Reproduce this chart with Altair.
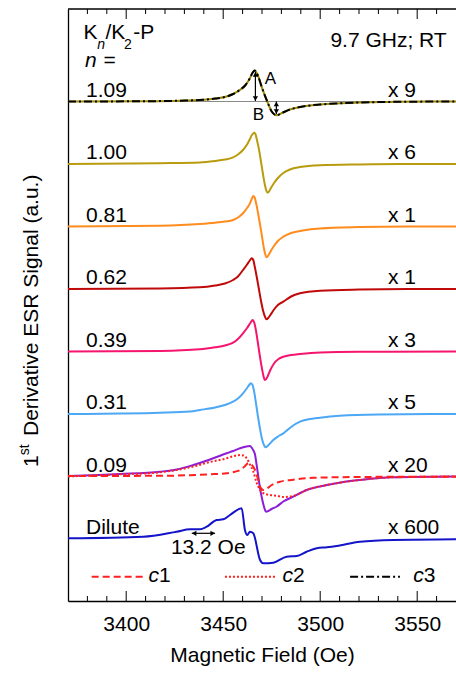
import altair as alt
import pandas as pd

FONT = "Liberation Sans"
FS = 21

# ---------------- data ----------------
samples = ["1.09", "1.00", "0.81", "0.62", "0.39", "0.31", "0.09", "Dilute"]
multipliers = ["x 9", "x 6", "x 1", "x 1", "x 3", "x 5", "x 20", "x 600"]
offsets = [499.5, 437, 374.5, 312, 249.5, 187, 124.5, 62]
colors = ["#9C8A06", "#B89C0E", "#FF8C1E", "#C00A0A", "#F5146E", "#4CA8F5", "#8C1ED8", "#1414C8"]

field_109 = [3370, 3412, 3428, 3439.7, 3446, 3451.8, 3455.1, 3458.7, 3461.5, 3463.8, 3465.2, 3466.2, 3467, 3467.9, 3469.8, 3472.4, 3475, 3477.6, 3480.3, 3484.4, 3489.6, 3499.9, 3510.2, 3520.5, 3541.1, 3570]
sig_109 = [0, 0.3, 0.8, 1.7, 3, 5, 7.5, 11.7, 16.5, 23.4, 29, 31, 29.5, 26, 14.8, 1.5, -10, -13.8, -11.5, -8, -5.5, -3, -1.8, -1, -0.3, 0]

field_100 = [3370, 3417.4, 3438, 3445.8, 3450.9, 3455.1, 3457.6, 3460.2, 3462.3, 3463.8, 3464.8, 3465.9, 3466.6, 3467.4, 3468.5, 3469.5, 3470.5, 3471.5, 3472.3, 3472.9, 3473.6, 3474.6, 3476.2, 3478.2, 3480.8, 3484.4, 3489.6, 3499.9, 3520.5, 3541.1, 3570]
sig_100 = [0, 0.8, 1.5, 3, 4.5, 6.7, 9.5, 14, 19.5, 25, 29, 31.3, 30, 24, 14, 2, -10, -21, -27, -28.7, -27.5, -24, -19, -14, -9.3, -5.5, -3, -1.2, -0.4, 0, 0]

field_081 = [3370, 3417.4, 3438, 3445.8, 3450.9, 3455.1, 3457.6, 3460.2, 3462.3, 3463.8, 3464.8, 3465.5, 3466.2, 3467, 3468, 3469, 3470, 3471, 3471.8, 3472.4, 3473.1, 3474.1, 3475.8, 3478.2, 3481, 3485, 3491, 3500, 3520, 3545, 3570]
sig_081 = [0, 0.8, 2.5, 3.8, 5, 6.5, 9, 13.2, 18.5, 23.2, 28, 30.5, 29, 23, 13, 2, -10, -22, -28.5, -30.8, -29.5, -26, -20.5, -14.5, -10.2, -6.5, -4, -2, -0.6, 0, 0]

field_062 = [3370, 3417.4, 3438, 3445.8, 3450.9, 3455.1, 3457.6, 3460.2, 3462.3, 3463.7, 3464.7, 3465.5, 3466.3, 3467.3, 3468.4, 3469.5, 3470.6, 3471.6, 3472.4, 3473.2, 3474.3, 3476.2, 3478.2, 3481, 3485, 3489.6, 3500, 3520, 3545, 3570]
sig_062 = [0, 0.6, 1.7, 3.5, 5.5, 9, 12.5, 19, 24.5, 28.5, 30.7, 29, 22, 12, 0, -12, -22, -28, -30.3, -29, -26, -20.5, -16, -12.7, -7.5, -4.3, -1.7, -0.5, 0, 0]

field_039 = [3370, 3417.4, 3438, 3445.8, 3450.9, 3455.1, 3457.6, 3460.2, 3462.3, 3464, 3465.2, 3466, 3466.8, 3467.7, 3468.7, 3469.7, 3470.7, 3471.5, 3472.2, 3473, 3474.3, 3476.2, 3478.5, 3481, 3485, 3489.6, 3500, 3520, 3570]
sig_039 = [0, 0.6, 2.2, 4.2, 6, 8.8, 12.5, 18.2, 23.5, 28.5, 31.5, 29, 22, 11, -2, -14, -24, -28.5, -27.5, -24.5, -18.5, -12, -7.5, -5.2, -3.5, -2.5, -1, -0.3, 0]

field_031 = [3370, 3396.8, 3417.4, 3432.9, 3438, 3445.8, 3450.9, 3455.1, 3457.6, 3460.2, 3462.3, 3463.4, 3464.2, 3465, 3465.8, 3466.8, 3467.8, 3468.9, 3470, 3471, 3471.9, 3472.9, 3474.1, 3475.8, 3478.2, 3481, 3485, 3489.6, 3494, 3499.9, 3510, 3530, 3570]
sig_031 = [0, 0.4, 1.2, 2.5, 4, 6.5, 9, 12.3, 15.5, 20.7, 26, 29, 30.7, 29.5, 24, 12, -1, -14, -25, -31, -33.3, -32, -29.5, -26, -22.5, -19.3, -13, -7.7, -5.3, -3.7, -1.8, -0.5, 0]

field_009 = [3370, 3396.8, 3417.4, 3426, 3434.6, 3443.2, 3451.8, 3455.1, 3458.7, 3461.5, 3463.8, 3464.8, 3465.6, 3466.4, 3467.2, 3468.1, 3469, 3470, 3471, 3471.8, 3472.4, 3473.2, 3475, 3477.6, 3481, 3486.1, 3493, 3503.4, 3512, 3520.5, 3537.7, 3570]
sig_009 = [0.5, 2.5, 4.8, 7, 11.5, 17, 23.2, 25.5, 28.2, 29.8, 30.5, 28.5, 26, 22, 12, 0, -12, -22, -30, -34.5, -35.2, -34.5, -32.5, -30, -25, -20.2, -13.5, -8.5, -5.5, -3.5, -0.8, 0]

field_dil = [3370, 3408.8, 3426, 3432.9, 3438, 3441.5, 3446.6, 3450, 3453.5, 3459.5, 3461.2, 3462.4, 3463.8, 3465.5, 3469, 3470.7, 3475.8, 3482.7, 3487.9, 3493, 3498.2, 3503.4, 3508.5, 3520.5, 3537.7, 3570]
sig_dil = [0.7, 2.3, 7.3, 9.7, 9.7, 12.3, 19, 19.7, 24, 30.7, 9, 4, 7.3, 5.7, -21, -24.3, -23.7, -17.7, -17, -12.7, -9.3, -8.3, -7, -2.7, -1, -0.3]

# fit components
field_c1 = [3370, 3417.4, 3433, 3443.2, 3451.8, 3456, 3458.7, 3461, 3462.9, 3464.5, 3466.4, 3468, 3469, 3470.7, 3472.5, 3475, 3479.3, 3486.1, 3496.3, 3511.8, 3540, 3570]
sig_c1 = [0.5, 0.7, 1.3, 2.2, 3.2, 4.8, 6.5, 10, 13.2, 12, 6.5, -3, -10.2, -13.5, -12, -8.5, -5.2, -3.3, -1.3, -0.7, -0.3, -0.3]
field_c2 = [3370, 3396.8, 3417.4, 3434.6, 3443.2, 3451.8, 3455.1, 3458.7, 3460.5, 3462.1, 3463.8, 3465.5, 3467.2, 3469, 3471, 3474.1, 3478.2, 3481, 3486.1, 3493, 3503.4, 3520.5, 3537.7, 3570]
sig_c2 = [0, 2.2, 4.2, 10, 14.5, 18.2, 20.2, 21.5, 21, 18.2, 12, 5, -6, -13.5, -17, -18.5, -19.5, -20.5, -19.5, -13.5, -8.5, -3.5, -0.8, 0]
field_c3 = [3370, 3412, 3428, 3439.7, 3446, 3451.8, 3455.1, 3458.7, 3461.5, 3463.8, 3465.2, 3466.2, 3467, 3467.9, 3469.8, 3472.4, 3475, 3477.6, 3480.3, 3484.4, 3489.6, 3499.9, 3510.2, 3520.5, 3541.1, 3570]
sig_c3 = [0, 0.3, 0.8, 1.7, 3, 5, 7.5, 11.7, 16.5, 23.4, 29, 31, 29.5, 26, 14.8, 1.5, -10, -13.8, -11.5, -8, -5.5, -3, -1.8, -1, -0.3, 0]

major_ticks = [3400, 3450, 3500, 3550]
minor_ticks = [3380, 3390, 3410, 3420, 3430, 3440, 3460, 3470, 3480, 3490, 3510, 3520, 3530, 3540, 3560]

# ---------------- build tables ----------------
trace_src = {
    "1.09": (field_109, sig_109), "1.00": (field_100, sig_100), "0.81": (field_081, sig_081),
    "0.62": (field_062, sig_062), "0.39": (field_039, sig_039), "0.31": (field_031, sig_031),
    "0.09": (field_009, sig_009), "Dilute": (field_dil, sig_dil),
}
off = dict(zip(samples, offsets))
rows = []
for s in samples:
    f, v = trace_src[s]
    for i, (a, b) in enumerate(zip(f, v)):
        rows.append({"series": s, "field": a, "y": off[s] + b, "i": i})
traces = pd.DataFrame(rows)

def fit_df(name, f, v, base):
    return pd.DataFrame({"series": name, "field": f, "y": [off[base] + b for b in v], "i": range(len(f))})

c1 = fit_df("c1", field_c1, sig_c1, "0.09")
c2 = fit_df("c2", field_c2, sig_c2, "0.09")
c3 = fit_df("c3", field_c3, sig_c3, "1.09")

xsc = alt.Scale(domain=[3370, 3570], nice=False, zero=False)
ysc = alt.Scale(domain=[0, 592], nice=False, zero=False)
xax = alt.Axis(values=major_ticks, ticks=False, tickSize=0, grid=False, domain=True,
               domainColor="black", domainWidth=1.3, labelFont=FONT, labelFontSize=FS,
               labelColor="black", labelPadding=12, format="d",
               title="Magnetic Field (Oe)", titleFont=FONT, titleFontSize=FS,
               titleFontWeight="normal", titleColor="black", titlePadding=10)
yax = alt.Axis(ticks=False, labels=False, grid=False, domain=True, domainColor="black",
               domainWidth=1.3, title=None)

def X(col="field"):
    return alt.X(f"{col}:Q", scale=xsc, axis=xax)

def Y(col="y"):
    return alt.Y(f"{col}:Q", scale=ysc, axis=yax)

layers = []

# baseline of top trace
base_df = pd.DataFrame({"x0": [3370], "x1": [3570], "y": [off["1.09"]]})
layers.append(alt.Chart(base_df).mark_rule(color="#8a8a8a", strokeWidth=1).encode(x=X("x0"), x2="x1", y=Y()))

# measured traces
layers.append(
    alt.Chart(traces).mark_line(strokeWidth=2, interpolate="monotone").encode(
        x=X(), y=Y(),
        color=alt.Color("series:N", scale=alt.Scale(domain=samples, range=colors), legend=None),
        order="i:Q",
    )
)
# fits
layers.append(alt.Chart(c1).mark_line(strokeWidth=2, color="#FF2020", strokeDash=[7, 4], interpolate="monotone").encode(x=X(), y=Y(), order="i:Q"))
layers.append(alt.Chart(c2).mark_line(strokeWidth=2, color="#FF2020", strokeDash=[2, 2], interpolate="monotone").encode(x=X(), y=Y(), order="i:Q"))
layers.append(alt.Chart(c3).mark_line(strokeWidth=2, color="black", strokeDash=[8, 3, 2, 3], interpolate="monotone").encode(x=X(), y=Y(), order="i:Q"))

# inward ticks (bottom and top)
tk = []
for t in major_ticks:
    tk += [{"field": t, "y0": 0, "y1": 10}, {"field": t, "y0": 592, "y1": 582}]
for t in minor_ticks:
    tk += [{"field": t, "y0": 0, "y1": 5}, {"field": t, "y0": 592, "y1": 587}]
layers.append(alt.Chart(pd.DataFrame(tk)).mark_rule(color="black", strokeWidth=1).encode(x=X(), y=Y("y0"), y2="y1"))
# top border
top_df = pd.DataFrame({"x0": [3370], "x1": [3570], "y": [592]})
layers.append(alt.Chart(top_df).mark_rule(color="black", strokeWidth=1.3).encode(x=X("x0"), x2="x1", y=Y()))

# sample labels (left) and multipliers (right)
lab = pd.DataFrame({"text": samples, "field": 3379.3, "y": [o + 5 for o in offsets]})
mul = pd.DataFrame({"text": multipliers, "field": 3534.9, "y": [o + 5 for o in offsets]})
txt = dict(font=FONT, fontSize=FS, color="black", align="left", baseline="alphabetic")
layers.append(alt.Chart(lab).mark_text(**txt).encode(x=X(), y=Y(), text="text:N"))
layers.append(alt.Chart(mul).mark_text(**txt).encode(x=X(), y=Y(), text="text:N"))

# header texts
hdr = pd.DataFrame({
    "text": ["K", "/K", "-P", "="],
    "field": [3378.0, 3389.3, 3403.6, 3388.3],
    "y": [561.7, 561.7, 561.7, 534.3],
})
layers.append(alt.Chart(hdr).mark_text(**txt).encode(x=X(), y=Y(), text="text:N"))
sub = pd.DataFrame({"text": ["n", "2"], "field": [3385.1, 3398.9], "y": [551.7, 551.7], "st": ["italic", "normal"]})
layers.append(alt.Chart(sub[sub.st == "italic"]).mark_text(font=FONT, fontSize=14, fontStyle="italic", color="black", align="left", baseline="alphabetic").encode(x=X(), y=Y(), text="text:N"))
layers.append(alt.Chart(sub[sub.st == "normal"]).mark_text(font=FONT, fontSize=14, color="black", align="left", baseline="alphabetic").encode(x=X(), y=Y(), text="text:N"))
nlab = pd.DataFrame({"text": ["n"], "field": [3378.8], "y": [534.3]})
layers.append(alt.Chart(nlab).mark_text(font=FONT, fontSize=FS, fontStyle="italic", color="black", align="left", baseline="alphabetic").encode(x=X(), y=Y(), text="text:N"))
cond = pd.DataFrame({"text": ["9.7 GHz; RT"], "field": [3565.2], "y": [554.3]})
layers.append(alt.Chart(cond).mark_text(font=FONT, fontSize=FS, color="black", align="right", baseline="alphabetic").encode(x=X(), y=Y(), text="text:N"))

# A / B arrows
arr = pd.DataFrame({"field": [3466.6, 3477.4], "y0": [529, 499.5], "y1": [500, 487]})
layers.append(alt.Chart(arr).mark_rule(color="black", strokeWidth=1.2).encode(x=X(), y=Y("y0"), y2="y1"))
heads_up = pd.DataFrame({"field": [3466.6, 3477.4], "y": [526.5, 497]})
heads_dn = pd.DataFrame({"field": [3466.6, 3477.4], "y": [502.5, 489.5]})
layers.append(alt.Chart(heads_up).mark_point(shape="triangle-up", filled=True, color="black", size=28, opacity=1).encode(x=X(), y=Y()))
layers.append(alt.Chart(heads_dn).mark_point(shape="triangle-down", filled=True, color="black", size=28, opacity=1).encode(x=X(), y=Y()))
ab = pd.DataFrame({"text": ["A", "B"], "field": [3474.3, 3468.1], "y": [522, 486.3]})
layers.append(alt.Chart(ab).mark_text(font=FONT, fontSize=17, color="black", align="center", baseline="middle").encode(x=X(), y=Y(), text="text:N"))

# 13.2 Oe spacing arrow
hs = pd.DataFrame({"x0": [3433.8], "x1": [3445.8], "y": [67.7]})
layers.append(alt.Chart(hs).mark_rule(color="black", strokeWidth=1.2).encode(x=X("x0"), x2="x1", y=Y()))
layers.append(alt.Chart(pd.DataFrame({"field": [3435.0], "y": [67.7]})).mark_point(shape="triangle-left", filled=True, color="black", size=28, opacity=1).encode(x=X(), y=Y()))
layers.append(alt.Chart(pd.DataFrame({"field": [3444.6], "y": [67.7]})).mark_point(shape="triangle-right", filled=True, color="black", size=28, opacity=1).encode(x=X(), y=Y()))
oe = pd.DataFrame({"text": ["13.2 Oe"], "field": [3442.3], "y": [52.7]})
layers.append(alt.Chart(oe).mark_text(font=FONT, fontSize=FS, color="black", align="center", baseline="middle").encode(x=X(), y=Y(), text="text:N"))

# legend of fit components
leg_names = ["c1", "c2", "c3"]
leg_x0 = [3382.2, 3450.9, 3515.4]
leg_x1 = [3409.7, 3476.7, 3541.1]
leg_tx = [3411.5, 3480.6, 3548.0]
leg_y = 24.3
dashes = [[7, 4], [2, 2], [8, 3, 2, 3]]
leg_cols = ["#FF2020", "#FF2020", "black"]
for n, a, b, d, c in zip(leg_names, leg_x0, leg_x1, dashes, leg_cols):
    seg = pd.DataFrame({"field": [a, b], "y": [leg_y, leg_y]})
    layers.append(alt.Chart(seg).mark_line(strokeWidth=2, color=c, strokeDash=d).encode(x=X(), y=Y()))
legc = pd.DataFrame({"text": ["c"] * 3, "field": leg_tx, "y": [19.3] * 3})
legn = pd.DataFrame({"text": ["1", "2", "3"], "field": [t + 5.4 for t in leg_tx], "y": [19.3] * 3})
layers.append(alt.Chart(legc).mark_text(font=FONT, fontSize=FS, fontStyle="italic", color="black", align="left", baseline="alphabetic").encode(x=X(), y=Y(), text="text:N"))
layers.append(alt.Chart(legn).mark_text(**txt).encode(x=X(), y=Y(), text="text:N"))

# y-axis title: 1st Derivative ESR Signal (a.u.)
one = pd.DataFrame({"t": ["1"]})
layers.append(alt.Chart(one).mark_text(text="1", font=FONT, fontSize=FS, angle=270, align="left", baseline="alphabetic", color="black").encode(x=alt.value(-30.5), y=alt.value(458)))
layers.append(alt.Chart(one).mark_text(text="st", font=FONT, fontSize=14, angle=270, align="left", baseline="alphabetic", color="black").encode(x=alt.value(-39), y=alt.value(446.3)))
layers.append(alt.Chart(one).mark_text(text="Derivative ESR Signal (a.u.)", font=FONT, fontSize=FS, angle=270, align="left", baseline="alphabetic", color="black").encode(x=alt.value(-30.5), y=alt.value(427)))

chart = alt.layer(*layers).properties(
    width=388, height=592,
    autosize=alt.AutoSizeParams(type="none"),
    padding={"left": 68, "top": 9, "right": 0, "bottom": 72},
).configure_view(stroke=None)

chart.save("out.html", embed_options={"renderer": "svg", "actions": False})
